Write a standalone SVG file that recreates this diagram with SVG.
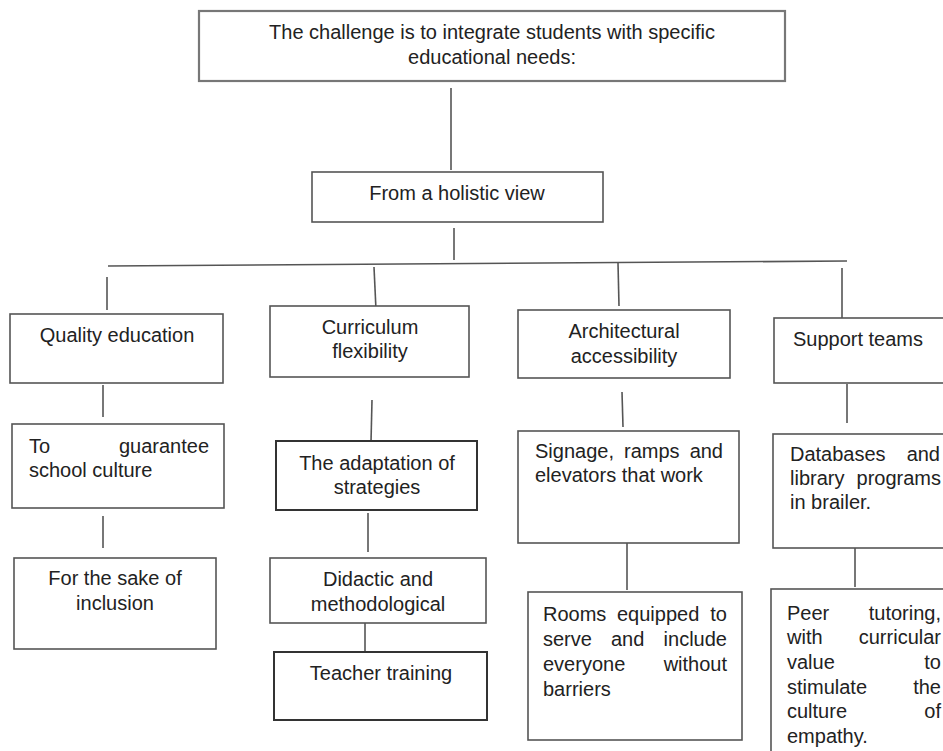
<svg xmlns="http://www.w3.org/2000/svg" width="943" height="751" viewBox="0 0 943 751">
<style>
.box{fill:#fff;stroke:#555;stroke-width:1.6}
.dark{stroke:#333;stroke-width:2}
.top{stroke:#777;stroke-width:2.2}
.t{font-family:"Liberation Sans",Arial,sans-serif;font-size:20px;fill:#222}
.c{text-anchor:middle}
.e{text-anchor:end}
.ln{stroke:#555;stroke-width:1.6;fill:none}
</style>
<rect width="943" height="751" fill="#fff"/>
<g id="connectors">
<line class="ln" x1="451" y1="88" x2="451" y2="170"/>
<line class="ln" x1="454" y1="228" x2="454" y2="260"/>
<line class="ln" x1="108" y1="266" x2="847" y2="261"/>
<line class="ln" x1="107" y1="277" x2="107" y2="310"/>
<line class="ln" x1="374" y1="267" x2="376" y2="310"/>
<line class="ln" x1="618" y1="263" x2="619" y2="306"/>
<line class="ln" x1="842" y1="268" x2="842" y2="323"/>
<line class="ln" x1="103" y1="385" x2="103" y2="417"/>
<line class="ln" x1="103" y1="516" x2="103" y2="548"/>
<line class="ln" x1="372" y1="400" x2="371" y2="442"/>
<line class="ln" x1="368" y1="513" x2="368" y2="552"/>
<line class="ln" x1="365" y1="622" x2="365" y2="653"/>
<line class="ln" x1="622" y1="392" x2="623" y2="427"/>
<line class="ln" x1="627" y1="543" x2="627" y2="590"/>
<line class="ln" x1="847" y1="384" x2="847" y2="423"/>
<line class="ln" x1="855" y1="548" x2="855" y2="587"/>
</g>
<g id="n-challenge">
<rect class="box top" x="199" y="11" width="586" height="70"/>
<text class="t c" x="492" y="39">The challenge is to integrate students with specific</text>
<text class="t c" x="492" y="64">educational needs:</text>
</g>
<g id="n-holistic">
<rect class="box" x="312" y="172" width="291" height="50"/>
<text class="t c" x="457" y="200">From a holistic view</text>
</g>
<g id="n-quality">
<rect class="box" x="10" y="314" width="213" height="69"/>
<text class="t c" x="117" y="342">Quality education</text>
</g>
<g id="n-curriculum">
<rect class="box" x="270" y="306" width="199" height="71"/>
<text class="t c" x="370" y="334">Curriculum</text>
<text class="t c" x="370" y="358">flexibility</text>
</g>
<g id="n-architectural">
<rect class="box" x="518" y="310" width="212" height="68"/>
<text class="t c" x="624" y="338">Architectural</text>
<text class="t c" x="624" y="363">accessibility</text>
</g>
<g id="n-support">
<rect class="box" x="774" y="318" width="180" height="65"/>
<text class="t c" x="858" y="346">Support teams</text>
</g>
<g id="n-guarantee">
<rect class="box" x="12" y="424" width="212" height="84"/>
<text class="t" x="29" y="453">To</text>
<text class="t e" x="209" y="453">guarantee</text>
<text class="t" x="29" y="477">school culture</text>
</g>
<g id="n-inclusion">
<rect class="box" x="14" y="558" width="202" height="91"/>
<text class="t c" x="115" y="585">For the sake of</text>
<text class="t c" x="115" y="610">inclusion</text>
</g>
<g id="n-adaptation">
<rect class="box dark" x="276" y="441" width="201" height="69"/>
<text class="t c" x="377" y="470">The adaptation of</text>
<text class="t c" x="377" y="494">strategies</text>
</g>
<g id="n-didactic">
<rect class="box" x="270" y="558" width="216" height="65"/>
<text class="t c" x="378" y="586">Didactic and</text>
<text class="t c" x="378" y="611">methodological</text>
</g>
<g id="n-teacher">
<rect class="box dark" x="274" y="652" width="213" height="68"/>
<text class="t c" x="381" y="680">Teacher training</text>
</g>
<g id="n-signage">
<rect class="box" x="518" y="431" width="221" height="112"/>
<text class="t" x="535" y="458">Signage,</text>
<text class="t" x="624" y="458">ramps</text>
<text class="t e" x="723" y="458">and</text>
<text class="t" x="535" y="482">elevators that work</text>
</g>
<g id="n-rooms">
<rect class="box" x="528" y="592" width="214" height="148"/>
<text class="t" x="543" y="621">Rooms</text>
<text class="t" x="617" y="621">equipped</text>
<text class="t e" x="727" y="621">to</text>
<text class="t" x="543" y="646">serve</text>
<text class="t" x="611" y="646">and</text>
<text class="t e" x="727" y="646">include</text>
<text class="t" x="543" y="671">everyone</text>
<text class="t e" x="727" y="671">without</text>
<text class="t" x="543" y="696">barriers</text>
</g>
<g id="n-databases">
<rect class="box" x="773" y="434" width="181" height="114"/>
<text class="t" x="790" y="461">Databases</text>
<text class="t e" x="940" y="461">and</text>
<text class="t" x="790" y="485">library</text>
<text class="t e" x="941" y="485">programs</text>
<text class="t" x="790" y="509">in brailer.</text>
</g>
<g id="n-peer">
<rect class="box" x="771" y="589" width="183" height="170"/>
<text class="t" x="787" y="620">Peer</text>
<text class="t e" x="941" y="620">tutoring,</text>
<text class="t" x="787" y="644">with</text>
<text class="t e" x="941" y="644">curricular</text>
<text class="t" x="787" y="669">value</text>
<text class="t e" x="941" y="669">to</text>
<text class="t" x="787" y="694">stimulate</text>
<text class="t e" x="941" y="694">the</text>
<text class="t" x="787" y="718">culture</text>
<text class="t e" x="941" y="718">of</text>
<text class="t" x="787" y="743">empathy.</text>
</g>
</svg>
